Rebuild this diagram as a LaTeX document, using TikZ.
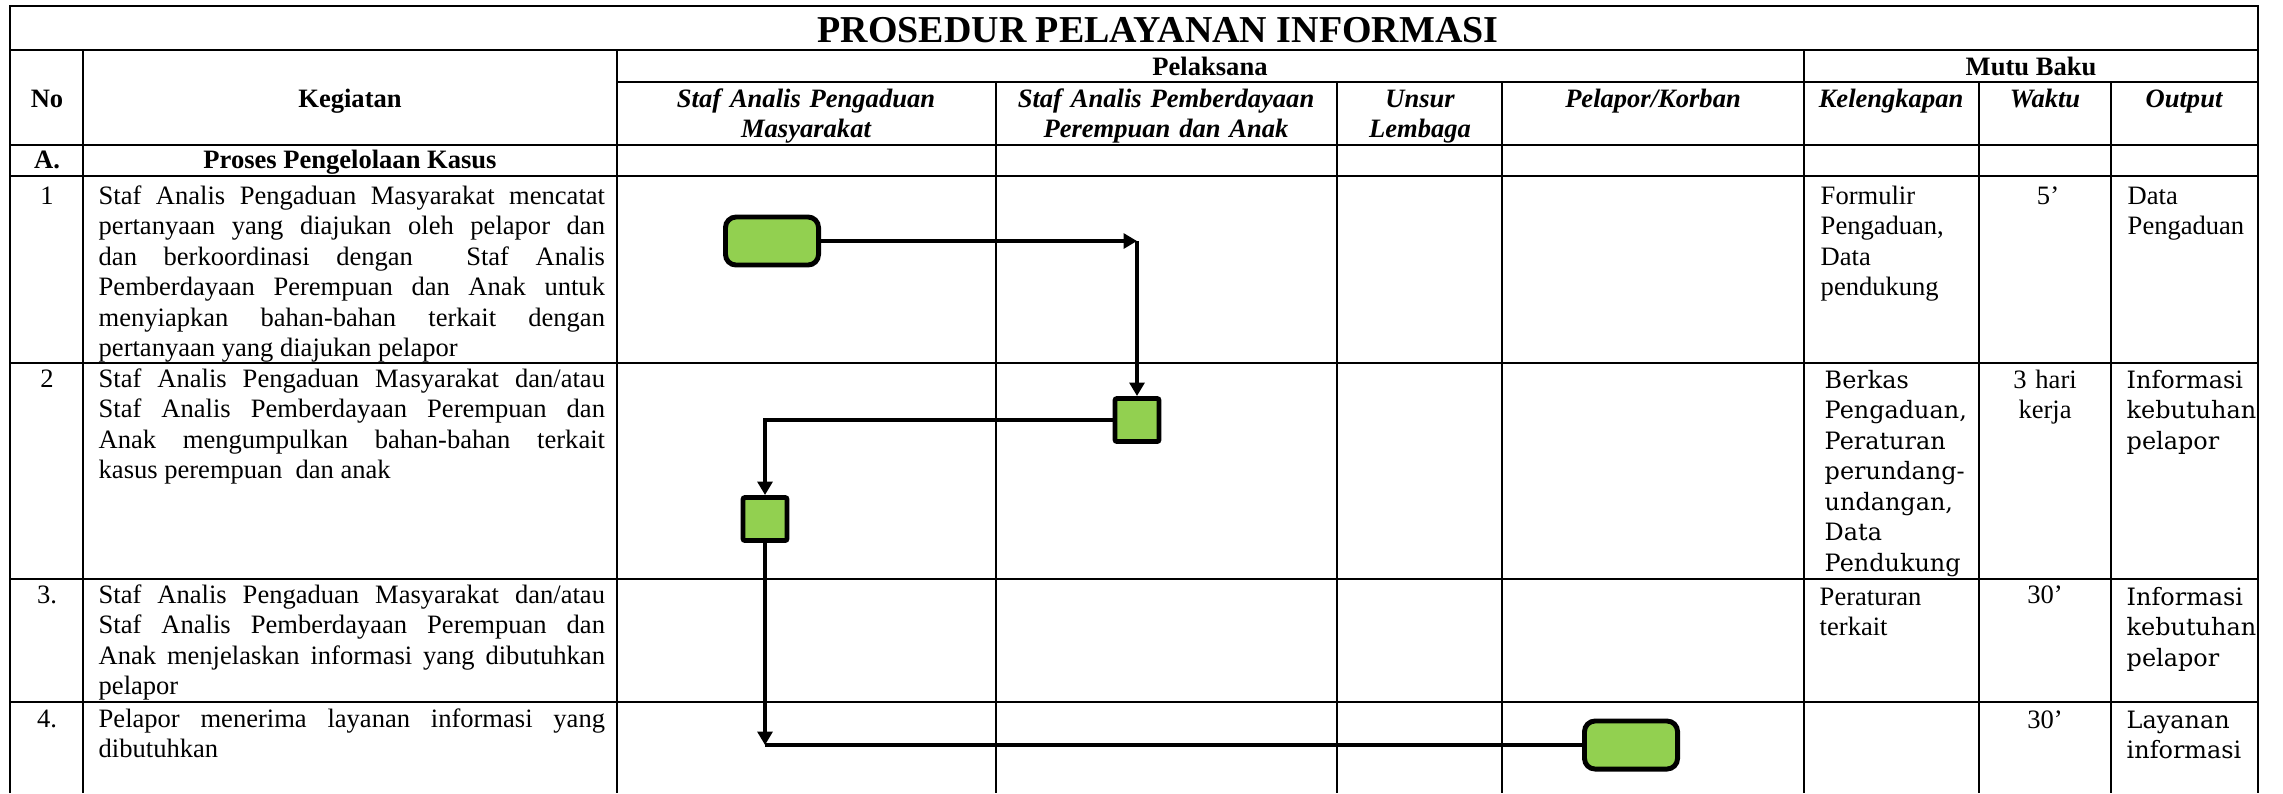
\documentclass[tikz,border=0pt]{standalone}
\usepackage{fontspec}
\setmainfont{Liberation Serif}
\newfontfamily\wideserif{DejaVu Serif}
\usetikzlibrary{arrows.meta}
\definecolor{procgreen}{HTML}{92D050}
\tolerance=9999
\newcommand\bodyfont{\fontsize{7.55}{8.7}\selectfont}
\newcommand\widefont{\wideserif\fontsize{6.8}{8.7}\selectfont}

\begin{document}
\begin{tikzpicture}[x=0.01cm,y=-0.01cm,
	every node/.style={inner sep=0pt},
	grid/.style={line width=0.65pt},
	head/.style={font=\bodyfont\bfseries,anchor=base},
	subhead/.style={font=\bodyfont\bfseries\itshape,anchor=base,text width=3.3cm,align=center},
	kegiatan/.style={font=\bodyfont,anchor=base west,text width=5.06cm,align=justify},
	cell/.style={font=\bodyfont,anchor=base west,text width=1.5cm,align=left},
	widecell/.style={cell,font=\widefont},
	mid/.style={font=\bodyfont,anchor=base,text width=1.3cm,align=center},
	proc/.style={draw,line width=1.4pt,fill=procgreen},
	flow/.style={line width=1.1pt,-{Triangle[length=3.8pt,width=4.2pt]}},
	link/.style={line width=1.1pt}]
	\useasboundingbox (0,0) rectangle (2283,793);
	\draw[grid] (10,793) -- (10,6) -- (2258,6) -- (2258,793);
	\draw[grid] (10,50) -- (2258,50) (617,82) -- (2258,82) (10,145) -- (2258,145) (10,176) -- (2258,176)
		(10,363) -- (2258,363) (10,579) -- (2258,579) (10,702) -- (2258,702);
	\draw[grid] (83,50) -- (83,793) (617,50) -- (617,793) (1804,50) -- (1804,793)
		(996,82) -- (996,793) (1337,82) -- (1337,793) (1502,82) -- (1502,793)
		(1979,82) -- (1979,793) (2111,82) -- (2111,793);

	\node[font=\fontsize{10.8}{13}\selectfont\bfseries,anchor=base] (title) at (1158,42) {PROSEDUR PELAYANAN INFORMASI};
	\node[head] (no) at (47,107) {No};
	\node[head] (keg) at (350,107) {Kegiatan};
	\node[head] (pel) at (1210,75) {Pelaksana};
	\node[head] (mutu) at (2031,75) {Mutu Baku};
	\node[subhead] (sapm) at (806,107) {Staf Analis Pengaduan\\Masyarakat};
	\node[subhead] (sappa) at (1166,107) {Staf Analis Pemberdayaan\\Perempuan dan Anak};
	\node[subhead] (unsur) at (1420,107) {Unsur\\Lembaga};
	\node[subhead] (korban) at (1653,107) {Pelapor/Korban};
	\node[subhead] (lengkap) at (1891,107) {Kelengkapan};
	\node[subhead] (waktu) at (2045,107) {Waktu};
	\node[subhead] (output) at (2184,107) {Output};
	\node[head] (sec) at (47,168) {A.};
	\node[head] (proses) at (350,168) {Proses Pengelolaan Kasus};

	\node[mid] (n1) at (47,204) {1};
	\node[mid] (n2) at (47,387) {2};
	\node[mid] (n3) at (47,603) {3.};
	\node[mid] (n4) at (47,727) {4.};
	\node[kegiatan] (k1) at (98,204) {Staf Analis Pengaduan Masyarakat mencatat\linebreak
		pertanyaan yang diajukan oleh pelapor dan\linebreak
		dan berkoordinasi dengan~ Staf Analis\linebreak
		Pemberdayaan Perempuan dan Anak untuk\linebreak
		menyiapkan bahan-bahan terkait dengan\linebreak
		pertanyaan yang diajukan pelapor};
	\node[kegiatan] (k2) at (98,387) {Staf Analis Pengaduan Masyarakat dan/atau\linebreak
		Staf Analis Pemberdayaan Perempuan dan\linebreak
		Anak mengumpulkan bahan-bahan terkait\linebreak
		kasus perempuan~ dan anak};
	\node[kegiatan] (k3) at (98,603) {Staf Analis Pengaduan Masyarakat dan/atau\linebreak
		Staf Analis Pemberdayaan Perempuan dan\linebreak
		Anak menjelaskan informasi yang dibutuhkan\linebreak
		pelapor};
	\node[kegiatan] (k4) at (98,727) {Pelapor menerima layanan informasi yang\linebreak
		dibutuhkan};

	\node[cell] (l1) at (1820,204) {Formulir\\Pengaduan,\\Data\\pendukung};
	\node[widecell] (l2) at (1824,388) {Berkas\\Pengaduan,\\Peraturan\\perundang-\\undangan,\\Data\\Pendukung};
	\node[cell] (l3) at (1819,605) {Peraturan\\terkait};
	\node[mid] (w1) at (2048,204) {5’};
	\node[mid] (w2) at (2045,388) {3 hari\\kerja};
	\node[mid] (w3) at (2045,603) {30’};
	\node[mid] (w4) at (2045,728) {30’};
	\node[cell] (o1) at (2127,204) {Data\\Pengaduan};
	\node[widecell] (o2) at (2126,388) {Informasi\\kebutuhan\\pelapor};
	\node[widecell] (o3) at (2126,605) {Informasi\\kebutuhan\\pelapor};
	\node[widecell] (o4) at (2126,728) {Layanan\\informasi};

	\node[proc,rounded corners=3pt,minimum width=0.93cm,minimum height=0.48cm] (b1) at (772,241) {};
	\node[proc,rounded corners=0.6pt,minimum width=0.44cm,minimum height=0.43cm] (b2) at (1137,420) {};
	\node[proc,rounded corners=0.6pt,minimum width=0.44cm,minimum height=0.43cm] (b3) at (765,519) {};
	\node[proc,rounded corners=3pt,minimum width=0.93cm,minimum height=0.48cm] (b4) at (1631,745) {};
	\coordinate (c1) at (b2 |- b1);
	\coordinate (c2) at (b3 |- b4);
	\draw[flow] (b1) -- (c1);
	\draw[flow] (c1) -- (b2);
	\draw[flow] (b2) -| (b3);
	\draw[flow] (b3) -- (c2);
	\draw[link] (c2) -- (b4);
\end{tikzpicture}
\end{document}
